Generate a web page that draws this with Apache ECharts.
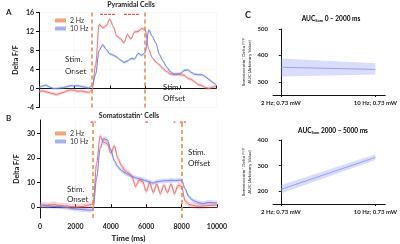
<!DOCTYPE html>
<html>
<head>
<meta charset="UTF-8" />
<title></title>
<style type="text/css">
  * { margin: 0; padding: 0; }
  #main { width: 400px; height: 244px; background-color: #fff; }
</style>
</head>
<body>
<div id="main"></div>
<script src="https://cdn.jsdelivr.net/npm/echarts@6/dist/echarts.min.js"></script>
<script type="text/javascript">
// time base (ms)
var timeMs = [0, 200, 400, 600, 800, 1000, 1200, 1400, 1600, 1800, 2000, 2200, 2400, 2600, 2800,
  3000, 3200, 3400, 3600, 3800, 4000, 4200, 4400, 4600, 4800, 5000, 5200, 5400, 5600, 5800,
  6000, 6200, 6400, 6600, 6800, 7000, 7200, 7400, 7600, 7800, 8000, 8200, 8400, 8600, 8800,
  9000, 9200, 9400, 9600, 9800, 10000]

// A: pyramidal cells, delta F/F
var pyr2Hz = [-0.6, -0.5, -0.7, -0.9, -1.1, -1.3, -1.0, -0.8, -0.5, -0.3, -0.4, -0.6, -0.5, -0.7, -0.8,
  -0.4, 5.0, 13.5, 12.8, 13.2, 14.6, 13.0, 11.0, 10.5, 9.6, 11.4, 10.4, 11.9, 12.0, 12.6,
  12.4, 8.2, 6.5, 5.6, 5.0, 4.2, 3.6, 3.1, 2.9, 3.0, 2.9, 2.8, 2.2, 1.9, 1.4,
  0.8, 0.6, 0.2, 0.0, 0.3, 0.4]
var pyr10Hz = [0.2, 0.5, 0.7, 0.3, 0.0, 0.0, 0.1, 0.2, 0.4, 0.6, 0.5, 0.6, 0.4, 0.3, 0.1,
  0.6, 3.0, 8.0, 9.2, 8.2, 7.3, 7.0, 6.6, 6.0, 5.5, 5.8, 6.3, 6.2, 7.4, 7.0,
  7.6, 12.3, 11.0, 9.6, 7.2, 5.8, 4.6, 3.6, 3.1, 3.0, 3.2, 3.8, 3.9, 3.4, 3.0,
  2.9, 2.9, 2.5, 1.9, 1.3, 0.8]

// B: somatostatin+ cells, delta F/F
var som2Hz = [0.8, 0.9, 0.7, 1.0, 1.2, 0.8, 0.6, 0.5, 0.4, 0.2, 0.1, 0.2, 0.3, 0.6, 1.0,
  1.2, 18.0, 29.0, 26.5, 26.0, 22.0, 25.0, 20.0, 17.0, 15.0, 14.0, 12.5, 8.5, 11.0, 10.5,
  6.5, 10.0, 6.0, 9.5, 5.5, 9.0, 6.0, 9.5, 5.5, 9.0, 8.5, 2.5, 1.2, 0.8, 0.5,
  0.4, 0.5, 0.6, 0.8, 0.8, 0.8]
var som10Hz = [0.5, 0.6, 0.5, 0.4, 0.3, 0.3, 0.2, 0.0, -0.2, -0.5, -0.7, -0.8, -1.0, -1.1, -1.2,
  -1.0, 12.0, 24.0, 28.0, 27.5, 23.5, 19.0, 16.5, 15.0, 14.0, 13.3, 12.6, 12.0, 11.6, 11.2,
  10.8, 10.3, 9.8, 10.4, 10.6, 10.8, 10.8, 11.0, 10.9, 11.0, 11.0, 7.5, 4.5, 3.0, 2.3,
  1.8, 1.5, 1.8, 2.0, 1.8, 1.7]

// error half-widths [2 Hz, 10 Hz]
var semPyr = [0.35, 0.3]
var semSom = [1.2, 0.9]

// stimulation windows (ms) and significance bars
var stimPyr = [3000, 6000]
var stimSom = [3000, 8000]
var sigPyr = [[3450, 4300], [4800, 5700]]
var sigSom = [[2850, 3150], [5950, 6100], [7550, 7650], [7900, 8250]]
var sigPyrLevel = 15.6
var sigSomLevel = 34.7

// C: AUC
var cCats = ['2 Hz; 0.73 mW', '10 Hz; 0.73 mW']
var auc0Mean = [355, 347]
var auc0Low = [320, 328]
var auc0High = [388, 370]
var auc1Mean = [207, 332]
var auc1Low = [191, 322]
var auc1High = [223, 344]

var red = '#f06c6c'
var blue = '#6e80ee'
var redBand = 'rgba(240,110,110,0.28)'
var blueBand = 'rgba(110,128,238,0.28)'
var orange = '#ea8540'
var font = 'Lato'

function pairs(xs, ys) {
  return xs.map(function (x, i) { return [x, ys[i]] })
}
function shift(ys, d) {
  return ys.map(function (v) { return v + d })
}

function band(xi, yi, xs, lo, hi, fill, smooth) {
  return {
    type: 'custom', xAxisIndex: xi, yAxisIndex: yi, silent: true, z: 1,
    encode: { x: 0, y: [1, 2] },
    data: xs.map(function (x, i) { return [x, lo[i], hi[i]] }),
    renderItem: function (params, api) {
      if (params.dataIndex !== 0) return null
      var up = [], dn = []
      for (var i = 0; i < xs.length; i++) {
        up.push(api.coord([xs[i], hi[i]]))
        dn.unshift(api.coord([xs[i], lo[i]]))
      }
      if (!smooth) {
        return { type: 'polygon', shape: { points: up.concat(dn) }, style: { fill: fill } }
      }
      return {
        type: 'group', children: [
          { type: 'polygon', shape: { points: up.concat(dn), smooth: smooth }, style: { fill: fill } }
        ]
      }
    }
  }
}

function trace(xi, yi, xs, ys, color, name, width, smooth) {
  return {
    type: 'line', name: name, xAxisIndex: xi, yAxisIndex: yi,
    data: pairs(xs, ys), symbol: 'none', z: 3,
    smooth: smooth || false, smoothMonotone: 'x',
    lineStyle: { color: color, width: width || 1 }, itemStyle: { color: color }
  }
}

function sigLine(xi, yi, segs, level) {
  var d = []
  segs.forEach(function (s) {
    d.push([s[0], level], [s[1], level], [s[1], '-'])
  })
  return {
    type: 'line', xAxisIndex: xi, yAxisIndex: yi, data: d, symbol: 'none', z: 4,
    lineStyle: { color: '#f05050', width: 1.2, type: [3, 1] }, silent: true
  }
}

function stimLines(xi, yi, xs) {
  return {
    type: 'line', xAxisIndex: xi, yAxisIndex: yi, data: [], z: 5,
    markLine: {
      silent: true, symbol: ['none', 'none'], label: { show: false },
      lineStyle: { color: orange, width: 1.5, type: [4, 3] },
      data: xs.map(function (x) { return { xAxis: x } })
    }
  }
}

var axisLbl = { fontFamily: font, fontWeight: 'bold', fontSize: 7, color: '#222' }
var axisLn = { lineStyle: { color: '#111', width: 1 } }
var faint = { show: true, lineStyle: { color: '#f4f4f4', width: 0.6 } }

var series = [
  band(0, 0, timeMs, shift(pyr2Hz, -semPyr[0]), shift(pyr2Hz, semPyr[0]), redBand, 0.2),
  band(0, 0, timeMs, shift(pyr10Hz, -semPyr[1]), shift(pyr10Hz, semPyr[1]), blueBand, 0.2),
  trace(0, 0, timeMs, pyr2Hz, red, '2 Hz', 1, 0.3),
  trace(0, 0, timeMs, pyr10Hz, blue, '10 Hz', 1, 0.3),
  sigLine(0, 0, sigPyr, sigPyrLevel),
  stimLines(0, 0, stimPyr),

  band(1, 1, timeMs, shift(som2Hz, -semSom[0]), shift(som2Hz, semSom[0]), redBand, 0.2),
  band(1, 1, timeMs, shift(som10Hz, -semSom[1]), shift(som10Hz, semSom[1]), blueBand, 0.2),
  trace(1, 1, timeMs, som2Hz, red, '2 Hz', 1, 0.3),
  trace(1, 1, timeMs, som10Hz, blue, '10 Hz', 1, 0.3),
  sigLine(1, 1, sigSom, sigSomLevel),
  stimLines(1, 1, stimSom),

  band(2, 2, [0, 1], auc0Low, auc0High, 'rgba(130,140,240,0.3)', 0),
  trace(2, 2, [0, 1], auc0Mean, '#8493ee', 'auc0', 0.8),
  band(3, 3, [0, 1], auc1Low, auc1High, 'rgba(130,140,240,0.3)', 0),
  trace(3, 3, [0, 1], auc1Mean, '#8493ee', 'auc1', 0.8)
]

function timeAxis(idx, showLabels) {
  return {
    type: 'value', gridIndex: idx, min: 0, max: 10000, interval: 2000,
    axisLine: axisLn,
    axisTick: { inside: true, length: 3, lineStyle: { color: '#111' } },
    axisLabel: Object.assign({ show: showLabels, margin: 5, formatter: function (v) { return String(v) } }, axisLbl),
    splitLine: faint,
    name: showLabels ? 'Time (ms)' : '', nameLocation: 'middle', nameGap: 16,
    nameTextStyle: { fontFamily: font, fontWeight: 'bold', fontSize: 8, color: '#111' }
  }
}

function aucXAxis(idx) {
  return {
    type: 'value', gridIndex: idx, min: -0.083, max: 1.104,
    axisLine: axisLn,
    axisTick: { length: 2, customValues: [0, 1], lineStyle: { color: '#111' } },
    axisLabel: Object.assign({}, axisLbl, {
      fontSize: 6, margin: 5, customValues: [0, 1],
      formatter: function (v) { return cCats[Math.round(v)] }
    }),
    splitLine: { show: false }
  }
}

function aucYAxis(idx, lo, hi, ticks) {
  return {
    type: 'value', gridIndex: idx, min: lo, max: hi,
    axisLine: axisLn,
    axisTick: { show: true, length: 2, customValues: ticks, lineStyle: { color: '#111' } },
    axisLabel: Object.assign({}, axisLbl, { fontSize: 6, margin: 5, customValues: ticks }),
    splitLine: { show: false },
    name: 'Somatostatin\u207A Delta F/F\nAUC (Arbitrary Value)',
    nameLocation: 'middle', nameRotate: 90, nameGap: 20,
    nameTextStyle: { fontFamily: font, fontSize: 4.6, lineHeight: 6, color: '#222' }
  }
}

var legendBase = {
  orient: 'vertical', icon: 'rect', itemWidth: 11, itemHeight: 4, itemGap: 1,
  textStyle: { fontFamily: font, fontSize: 7, color: '#333', padding: [0, 0, 0, -1] },
  data: [
    { name: '2 Hz', itemStyle: { color: '#f2a478' } },
    { name: '10 Hz', itemStyle: { color: '#a2b2f2' } }
  ]
}

// label placed by its box: left edge / top edge
function txt(left, top, s, size, bold) {
  return {
    type: 'text', left: left, top: top, silent: true,
    style: { text: s, fill: '#222', font: (bold ? 'bold ' : '') + size + 'px ' + font }
  }
}
function ctxt(cx, top, s, size) {
  return {
    type: 'text', x: cx, y: top, silent: true,
    style: { text: s, fill: '#222', align: 'center', verticalAlign: 'top', font: 'bold ' + size + 'px ' + font }
  }
}

var subRich = {
  a: { fontFamily: font, fontWeight: 'bold', fontSize: 6.5, color: '#222' },
  s: { fontFamily: font, fontWeight: 'bold', fontSize: 4, color: '#222', padding: [4, 0, 0, 0] }
}

var option = {
  animation: false,
  backgroundColor: '#fff',
  grid: [
    { left: 39, top: 12.5, width: 177, height: 95 },
    { left: 40, top: 120, width: 177, height: 98 },
    { left: 273, top: 29, width: 114, height: 66 },
    { left: 273, top: 140, width: 114, height: 64 }
  ],
  xAxis: [timeAxis(0, false), timeAxis(1, true), aucXAxis(2), aucXAxis(3)],
  yAxis: [
    {
      type: 'value', gridIndex: 0, min: -4, max: 16, interval: 4,
      axisLine: Object.assign({ show: true }, axisLn),
      axisTick: { show: true, length: 3, lineStyle: { color: '#111' } },
      axisLabel: Object.assign({ margin: 5 }, axisLbl),
      splitLine: faint,
      name: 'Delta F/F', nameLocation: 'middle', nameGap: 20,
      nameTextStyle: { fontFamily: font, fontWeight: 'bold', fontSize: 7, color: '#111' }
    },
    {
      type: 'value', gridIndex: 1, min: -4.4, max: 35.6,
      axisLine: Object.assign({ show: true }, axisLn),
      axisTick: { show: true, length: 3, customValues: [0, 10, 20, 30], lineStyle: { color: '#111' } },
      axisLabel: Object.assign({ margin: 5, customValues: [0, 10, 20, 30] }, axisLbl),
      splitLine: { show: false },
      name: 'Delta F/F', nameLocation: 'middle', nameGap: 20,
      nameTextStyle: { fontFamily: font, fontWeight: 'bold', fontSize: 7, color: '#111' }
    },
    aucYAxis(2, 250, 500, [300, 400, 500]),
    aucYAxis(3, 150, 400, [200, 300, 400])
  ],
  legend: [
    Object.assign({ left: 50, top: 12 }, legendBase),
    Object.assign({ left: 50, top: 125 }, legendBase)
  ],
  graphic: [
    txt(6, 8, 'A', 8, true),
    txt(6, 114, 'B', 8, true),
    txt(245, 11, 'C', 9, true),
    ctxt(131, 1, 'Pyramidal Cells', 7),
    ctxt(129, 112, 'Somatostatin\u207A Cells', 7),
    txt(65, 55.5, 'Stim.', 8, false),
    txt(65, 67.5, 'Onset', 8, false),
    txt(163, 83, 'Stim.', 8, false),
    txt(163, 94, 'Offset', 8, false),
    txt(67, 185, 'Stim.', 8, false),
    txt(67, 195, 'Onset', 8, false),
    txt(188, 148, 'Stim.', 8, false),
    txt(188, 159, 'Offset', 8, false),
    {
      type: 'text', x: 331, y: 19, silent: true,
      style: { text: '{a|AUC}{s|Som}{a| 0 \u2013 2000 ms}', rich: subRich, align: 'center', verticalAlign: 'middle' }
    },
    {
      type: 'text', x: 333, y: 131, silent: true,
      style: { text: '{a|AUC}{s|Som}{a| 2000 \u2013 5000 ms}', rich: subRich, align: 'center', verticalAlign: 'middle' }
    }
  ],
  series: series
}

var myChart = echarts.init(document.getElementById('main'))
myChart.setOption(option)
window.addEventListener('resize', function () { myChart.resize() })
</script>
</body>
</html>
